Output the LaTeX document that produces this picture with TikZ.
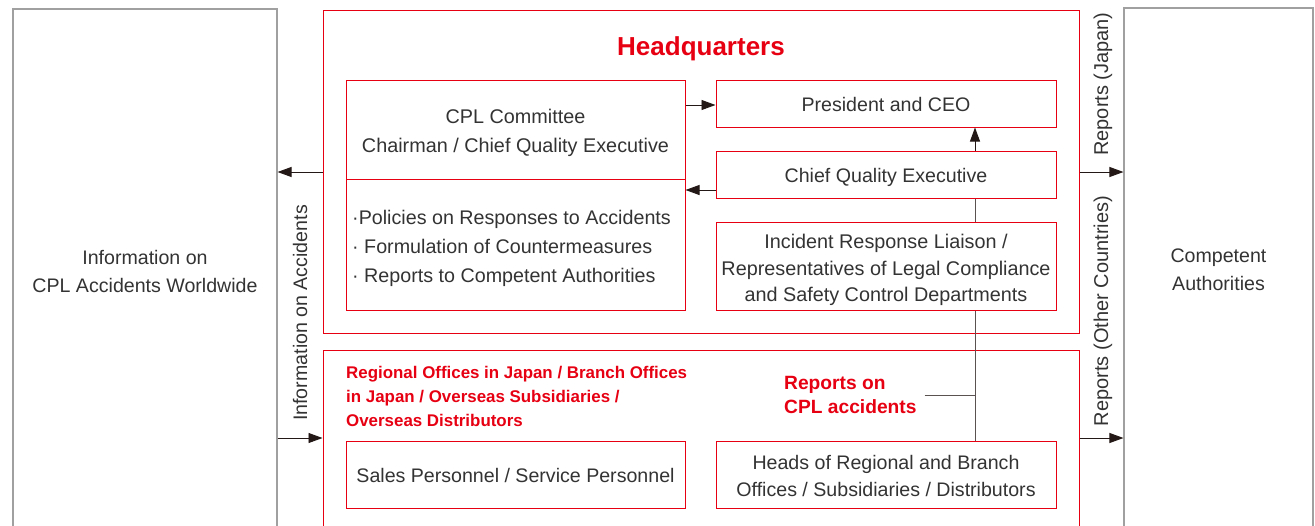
\documentclass[tikz,border=0pt]{standalone}
\usepackage{fontspec}
\setmainfont{Liberation Sans}
\usetikzlibrary{arrows.meta,calc}
\definecolor{cpred}{HTML}{E60012}
\definecolor{txt}{HTML}{333333}
\definecolor{gbox}{HTML}{A0A0A0}
\definecolor{ln}{HTML}{231815}
\tikzset{
  rbox/.style={draw=cpred, line width=1pt, inner sep=0pt},
  gboxs/.style={draw=gbox, line width=1.1pt, inner sep=0pt},
  lbl/.style={text=txt, inner sep=0pt, align=center, font=\fontsize{19.6}{27}\selectfont},
  redlbl/.style={text=cpred, inner sep=0pt, font=\fontsize{16.9}{24}\selectfont\bfseries, align=left},
  arr/.style={draw=ln, line width=0.9pt, -{Triangle[length=14pt,width=10pt]}},
  conn/.style={draw=ln!75, line width=0.9pt}
}
\begin{document}
\begin{tikzpicture}[x=1pt,y=-1pt]
\useasboundingbox (0,0) rectangle (1315,525);
\clip (0,0) rectangle (1315,525);
% outer grey boxes
\node[gboxs, minimum width=264pt, minimum height=522pt] (left) at (145,270) {};
\node[lbl, font=\fontsize{19.6}{28}\selectfont] (left-t) at (145,271) {Information on\\CPL Accidents Worldwide};
\node[gboxs, minimum width=189pt, minimum height=523pt] (right) at (1218.5,269.5) {};
\node[lbl, font=\fontsize{19.6}{28}\selectfont] (right-t) at (1218.5,269.5) {Competent\\Authorities};
% headquarters
\node[rbox, minimum width=756pt, minimum height=323pt] (hq) at (701,171.5) {};
\node[text=cpred, inner sep=0pt, font=\fontsize{26}{30}\selectfont\bfseries] (hqt) at (701,49) {Headquarters};
\node[rbox, minimum width=339pt, minimum height=230pt] (cpl) at (515.5,195) {};
\coordinate (divl) at (346,179);
\coordinate (divr) at (685,179);
\draw[draw=cpred, line width=1pt] (divl) -- (divr);
\node[lbl, font=\fontsize{19.8}{29}\selectfont] (cplt) at (515.5,133) {CPL Committee\\Chairman / Chief Quality Executive};
\node[lbl, align=left, anchor=west, font=\fontsize{19.7}{29}\selectfont] (bul) at (352,248)
  {·Policies on Responses to Accidents\\· Formulation of Countermeasures\\· Reports to Competent Authorities};
\node[rbox, minimum width=340pt, minimum height=47pt] (pres) at (886,103.5) {};
\node[lbl] (pres-t) at (886,104) {President and CEO};
\node[rbox, minimum width=340pt, minimum height=47pt] (cqe) at (886,174.5) {};
\node[lbl] (cqe-t) at (886,177.5) {Chief Quality Executive};
\node[rbox, minimum width=340pt, minimum height=88pt] (inc) at (886,266) {};
\node[lbl, font=\fontsize{19.8}{26.5}\selectfont] (inc-t) at (886,270)
  {Incident Response Liaison /\\Representatives of Legal Compliance\\and Safety Control Departments};
% bottom region
\node[rbox, minimum width=756pt, minimum height=190pt] (reg) at (701,445) {};
\node[redlbl, anchor=west] (regt) at (346,396)
  {Regional Offices in Japan / Branch Offices\\in Japan / Overseas Subsidiaries /\\Overseas Distributors};
\node[rbox, minimum width=339pt, minimum height=67pt] (sales) at (515.5,474.5) {};
\node[lbl] (sales-t) at (515.5,475.5) {Sales Personnel / Service Personnel};
\node[rbox, minimum width=340pt, minimum height=67pt] (heads) at (886,474.5) {};
\node[lbl] (heads-t) at (886,476) {Heads of Regional and Branch\\Offices / Subsidiaries / Distributors};
\node[redlbl, font=\fontsize{19.2}{24}\selectfont\bfseries, anchor=west] (rep) at (784,395)
  {Reports on\\CPL accidents};
% rotated labels
\node[lbl, rotate=90] (info) at (300,313) {Information on Accidents};
\node[lbl, rotate=90, font=\fontsize{20}{27}\selectfont] (rj) at (1103,84) {Reports (Japan)};
\node[lbl, rotate=90, font=\fontsize{20}{27}\selectfont] (ro) at (1103,311) {Reports (Other Countries)};
% connectors
\coordinate (vx) at (975,0);
\draw[arr] (cpl.east |- 0,105) -- (pres.west |- 0,105);
\draw[arr] (cqe.west |- 0,190) -- (cpl.east |- 0,190);
\draw[arr] (cqe.north -| vx) -- (pres.south -| vx);
\draw[conn] (inc.north -| vx) -- (cqe.south -| vx);
\draw[conn] (heads.north -| vx) -- (inc.south -| vx);
\draw[conn] ($(rep.east)+(8,0)$) -- (rep.east -| vx);
\draw[arr] (hq.west |- 0,172) -- (left.east |- 0,172);
\draw[arr] (left.east |- 0,438) -- (reg.west |- 0,438);
\draw[arr] (hq.east |- 0,172) -- (right.west |- 0,172);
\draw[arr] (reg.east |- 0,438) -- (right.west |- 0,438);
\end{tikzpicture}
\end{document}
